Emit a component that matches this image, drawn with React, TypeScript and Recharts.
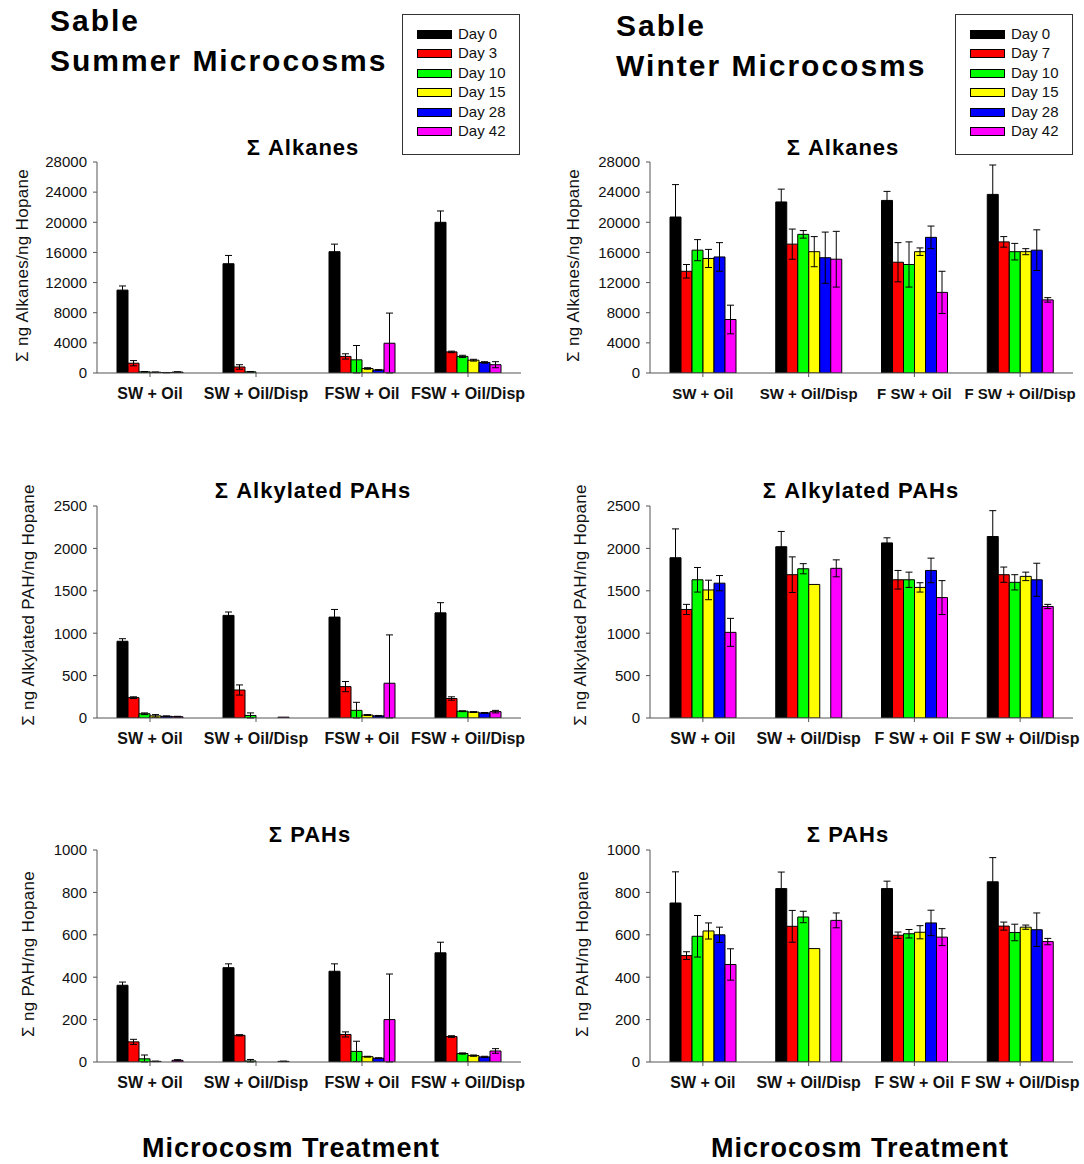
import React from "react";
import { BarChart, Bar, XAxis, YAxis, ErrorBar, Legend } from "recharts";

// categories
const SUMMER_CATS = ["SW + Oil", "SW + Oil/Disp", "FSW + Oil", "FSW + Oil/Disp"];
const WINTER_CATS = ["SW + Oil", "SW + Oil/Disp", "F SW + Oil", "F SW + Oil/Disp"];
const SUMMER_DAYS = ["Day 0", "Day 3", "Day 10", "Day 15", "Day 28", "Day 42"];
const WINTER_DAYS = ["Day 0", "Day 7", "Day 10", "Day 15", "Day 28", "Day 42"];
const DAY_COLORS = ["#000000", "#ff0000", "#00ff00", "#ffff00", "#0000ff", "#ff00ff"];

// y ticks
const ALKANE_TICKS = [0, 4000, 8000, 12000, 16000, 20000, 24000, 28000];
const ALKYL_TICKS = [0, 500, 1000, 1500, 2000, 2500];
const PAH_TICKS = [0, 200, 400, 600, 800, 1000];

// one row per sampling day, one column per treatment
const summerAlkanes = [
  [11000, 14500, 16100, 20000],
  [1300, 800, 2200, 2800],
  [150, 150, 1750, 2200],
  [100, 0, 600, 1700],
  [50, 0, 400, 1400],
  [120, 0, 3950, 1100],
];
const summerAlkanesErr = [
  [550, 1100, 1000, 1500],
  [350, 300, 350, 100],
  [50, 50, 1900, 150],
  [30, null, 100, 120],
  [20, null, 50, 100],
  [40, null, 4000, 400],
];

const winterAlkanes = [
  [20700, 22700, 22900, 23700],
  [13500, 17100, 14700, 17400],
  [16300, 18400, 14400, 16100],
  [15200, 16100, 16100, 16100],
  [15400, 15300, 18000, 16300],
  [7100, 15100, 10700, 9700],
];
const winterAlkanesErr = [
  [4300, 1700, 1200, 3900],
  [900, 2000, 2600, 700],
  [1400, 500, 3000, 1100],
  [1200, 2000, 500, 400],
  [1900, 3400, 1500, 2700],
  [1900, 3700, 2800, 300],
];

const summerAlkyl = [
  [905, 1210, 1190, 1240],
  [240, 330, 370, 230],
  [50, 30, 90, 80],
  [25, 0, 35, 70],
  [20, 0, 25, 60],
  [15, 10, 410, 75],
];
const summerAlkylErr = [
  [30, 40, 90, 120],
  [10, 60, 60, 20],
  [10, 30, 95, 5],
  [15, null, 5, 5],
  [5, null, 5, 5],
  [5, null, 570, 15],
];

const winterAlkyl = [
  [1890, 2020, 2065, 2140],
  [1280, 1690, 1630, 1690],
  [1630, 1760, 1630, 1600],
  [1510, 1575, 1540, 1670],
  [1590, null, 1740, 1630],
  [1010, 1765, 1420, 1315],
];
const winterAlkylErr = [
  [340, 180, 60, 305],
  [60, 210, 110, 90],
  [145, 60, 90, 90],
  [115, null, 55, 50],
  [90, null, 145, 195],
  [165, 100, 200, 25],
];

const summerPah = [
  [362, 445, 428, 515],
  [95, 126, 130, 120],
  [15, 5, 50, 40],
  [3, 0, 25, 30],
  [0, 0, 18, 24],
  [8, 3, 200, 52],
];
const summerPahErr = [
  [15, 18, 35, 50],
  [12, 3, 12, 4],
  [18, 7, 48, 3],
  [1, null, 2, 3],
  [null, null, 2, 3],
  [3, 1, 215, 11],
];

const winterPah = [
  [750, 818, 818, 850],
  [502, 640, 598, 641],
  [593, 684, 605, 611],
  [618, 535, 612, 636],
  [600, null, 656, 624],
  [460, 668, 589, 568],
];
const winterPahErr = [
  [147, 78, 35, 114],
  [18, 75, 15, 19],
  [98, 27, 20, 39],
  [38, null, 31, 10],
  [36, null, 60, 79],
  [74, 35, 40, 15],
];

const FONT = '"Liberation Sans", Arial, sans-serif';
const AXIS = "#555";

const Caption = ({ x, y, size, anchor = "middle", spacing = 0, children }: any) => (
  <div
    style={{
      position: "absolute",
      left: x,
      top: y - size / 2,
      fontSize: size,
      lineHeight: `${size}px`,
      fontWeight: "bold",
      letterSpacing: spacing,
      whiteSpace: "nowrap",
      transform: anchor === "middle" ? "translateX(-50%)" : undefined,
      color: "#000",
    }}
  >
    {children}
  </div>
);

// boxed legend, kept in day order
const legendContent = (days: string[]) => () => (
  <div
    style={{
      position: "relative",
      width: 118,
      height: 141,
      border: "1px solid #333",
      boxSizing: "border-box",
      background: "#fff",
    }}
  >
    {days.map((d, i) => (
      <React.Fragment key={d}>
        <div
          style={{
            position: "absolute",
            left: 14,
            top: 19 + i * 19.4 - 4,
            width: 33,
            height: 7,
            background: DAY_COLORS[i],
            border: "1px solid #000",
          }}
        />
        <div
          style={{
            position: "absolute",
            left: 55,
            top: 19 + i * 19.4 - 9,
            fontSize: 15,
            lineHeight: "18px",
            color: "#111",
            whiteSpace: "nowrap",
          }}
        >
          {d}
        </div>
      </React.Fragment>
    ))}
  </div>
);

type PanelProps = {
  left: number;
  chartTop: number;
  plotTop: number;
  plotH: number;
  width: number;
  axisW: number;
  rightM: number;
  cats: string[];
  days: string[];
  values: (number | null)[][];
  errors: (number | null)[][];
  ticks: number[];
  yLabel: string;
  yLabelX: number;
  yLabelDy: number;
  catFont: number;
  legendLeft?: number;
};

const Panel = (p: PanelProps) => {
  const rows = p.cats.map((cat, i) => {
    const r: any = { cat };
    p.days.forEach((_, k) => {
      const v = p.values[k][i];
      const e = p.errors[k][i];
      r[`v${k}`] = v;
      // lower whisker stops at the x axis
      r[`e${k}`] = v == null || e == null ? null : [Math.min(e, v), e];
    });
    return r;
  });
  const mTop = p.plotTop - p.chartTop;
  const height = mTop + p.plotH + 45;
  const cy = mTop + p.plotH / 2 + p.yLabelDy;
  const max = p.ticks[p.ticks.length - 1];

  return (
    <div style={{ position: "absolute", left: p.left, top: p.chartTop }}>
      <BarChart
        width={p.width}
        height={height}
        data={rows}
        margin={{ top: mTop, right: p.rightM, bottom: 0, left: 0 }}
        barGap={0}
        barCategoryGap="20%"
      >
        <XAxis
          dataKey="cat"
          height={45}
          interval={0}
          tickSize={4}
          tickMargin={11}
          axisLine={{ stroke: AXIS }}
          tickLine={{ stroke: AXIS }}
          tick={{ fontSize: p.catFont, fontWeight: "bold", fill: "#111" }}
        />
        <XAxis
          xAxisId="top"
          orientation="top"
          dataKey="cat"
          height={0}
          tick={false}
          tickLine={false}
          axisLine={{ stroke: AXIS }}
        />
        <YAxis
          width={p.axisW}
          domain={[0, max]}
          allowDataOverflow
          ticks={p.ticks}
          interval={0}
          tickSize={4}
          tickMargin={6}
          axisLine={{ stroke: AXIS }}
          tickLine={{ stroke: AXIS }}
          tick={{ fontSize: 15, fill: "#111" }}
          label={() => (
            <text
              x={p.yLabelX}
              y={cy}
              transform={`rotate(-90 ${p.yLabelX} ${cy})`}
              textAnchor="middle"
              dominantBaseline="central"
              fontSize={17}
              letterSpacing={0.3}
              fill="#111"
            >
              {p.yLabel}
            </text>
          )}
        />
        <YAxis
          yAxisId="right"
          orientation="right"
          type="number"
          domain={[0, 1]}
          width={0}
          tick={false}
          tickLine={false}
          axisLine={{ stroke: AXIS }}
        />
        {p.days.map((d, k) => (
          <Bar
            key={d}
            dataKey={`v${k}`}
            name={d}
            fill={DAY_COLORS[k]}
            stroke="#000"
            strokeWidth={1}
            barSize={11}
            isAnimationActive={false}
          >
            <ErrorBar dataKey={`e${k}`} width={3.5} stroke="#000" strokeWidth={1} direction="y" />
          </Bar>
        ))}
        {p.legendLeft !== undefined && (
          <Legend
            layout="vertical"
            align="center"
            verticalAlign="middle"
            wrapperStyle={{ left: p.legendLeft, top: 14, width: 118, height: 141 }}
            content={legendContent(p.days)}
          />
        )}
      </BarChart>
    </div>
  );
};

const LEFT = { left: 0, width: 540, axisW: 97, rightM: 19 };
const RIGHT = { left: 550, width: 534, axisW: 100, rightM: 11 };

export default function App() {
  return (
    <div
      style={{
        position: "absolute",
        left: 0,
        top: 0,
        width: 1084,
        height: 1164,
        background: "#fff",
        fontFamily: FONT,
        overflow: "hidden",
      }}
    >
      <Caption x={50} y={21} size={30} anchor="start" spacing={2}>Sable</Caption>
      <Caption x={50} y={61} size={30} anchor="start" spacing={2}>Summer Microcosms</Caption>
      <Caption x={616} y={26} size={30} anchor="start" spacing={2}>Sable</Caption>
      <Caption x={616} y={66} size={30} anchor="start" spacing={2}>Winter Microcosms</Caption>

      <Panel
        {...LEFT}
        chartTop={0}
        plotTop={162}
        plotH={211}
        cats={SUMMER_CATS}
        days={SUMMER_DAYS}
        values={summerAlkanes}
        errors={summerAlkanesErr}
        ticks={ALKANE_TICKS}
        yLabel="Σ ng Alkanes/ng Hopane"
        yLabelX={22}
        yLabelDy={-2}
        catFont={16}
        legendLeft={402}
      />
      <Panel
        {...RIGHT}
        chartTop={0}
        plotTop={162}
        plotH={211}
        cats={WINTER_CATS}
        days={WINTER_DAYS}
        values={winterAlkanes}
        errors={winterAlkanesErr}
        ticks={ALKANE_TICKS}
        yLabel="Σ ng Alkanes/ng Hopane"
        yLabelX={23}
        yLabelDy={-2}
        catFont={15}
        legendLeft={405}
      />
      <Panel
        {...LEFT}
        chartTop={470}
        plotTop={506}
        plotH={212}
        cats={SUMMER_CATS}
        days={SUMMER_DAYS}
        values={summerAlkyl}
        errors={summerAlkylErr}
        ticks={ALKYL_TICKS}
        yLabel="Σ ng Alkylated PAH/ng Hopane"
        yLabelX={28}
        yLabelDy={-7}
        catFont={16}
      />
      <Panel
        {...RIGHT}
        chartTop={470}
        plotTop={506}
        plotH={212}
        cats={WINTER_CATS}
        days={WINTER_DAYS}
        values={winterAlkyl}
        errors={winterAlkylErr}
        ticks={ALKYL_TICKS}
        yLabel="Σ ng Alkylated PAH/ng Hopane"
        yLabelX={30}
        yLabelDy={-7}
        catFont={16}
      />
      <Panel
        {...LEFT}
        chartTop={820}
        plotTop={850}
        plotH={212}
        cats={SUMMER_CATS}
        days={SUMMER_DAYS}
        values={summerPah}
        errors={summerPahErr}
        ticks={PAH_TICKS}
        yLabel="Σ ng PAH/ng Hopane"
        yLabelX={28}
        yLabelDy={-2}
        catFont={16}
      />
      <Panel
        {...RIGHT}
        chartTop={820}
        plotTop={850}
        plotH={212}
        cats={WINTER_CATS}
        days={WINTER_DAYS}
        values={winterPah}
        errors={winterPahErr}
        ticks={PAH_TICKS}
        yLabel="Σ ng PAH/ng Hopane"
        yLabelX={32}
        yLabelDy={-2}
        catFont={16}
      />

      <Caption x={303} y={148} size={22} spacing={1}>Σ Alkanes</Caption>
      <Caption x={843} y={148} size={22} spacing={1}>Σ Alkanes</Caption>
      <Caption x={313} y={491} size={22} spacing={1}>Σ Alkylated PAHs</Caption>
      <Caption x={861} y={491} size={22} spacing={1}>Σ Alkylated PAHs</Caption>
      <Caption x={310} y={835} size={22} spacing={1}>Σ PAHs</Caption>
      <Caption x={848} y={835} size={22} spacing={1}>Σ PAHs</Caption>

      <Caption x={291} y={1148} size={27} spacing={1}>Microcosm Treatment</Caption>
      <Caption x={860} y={1148} size={27} spacing={1}>Microcosm Treatment</Caption>
    </div>
  );
}
